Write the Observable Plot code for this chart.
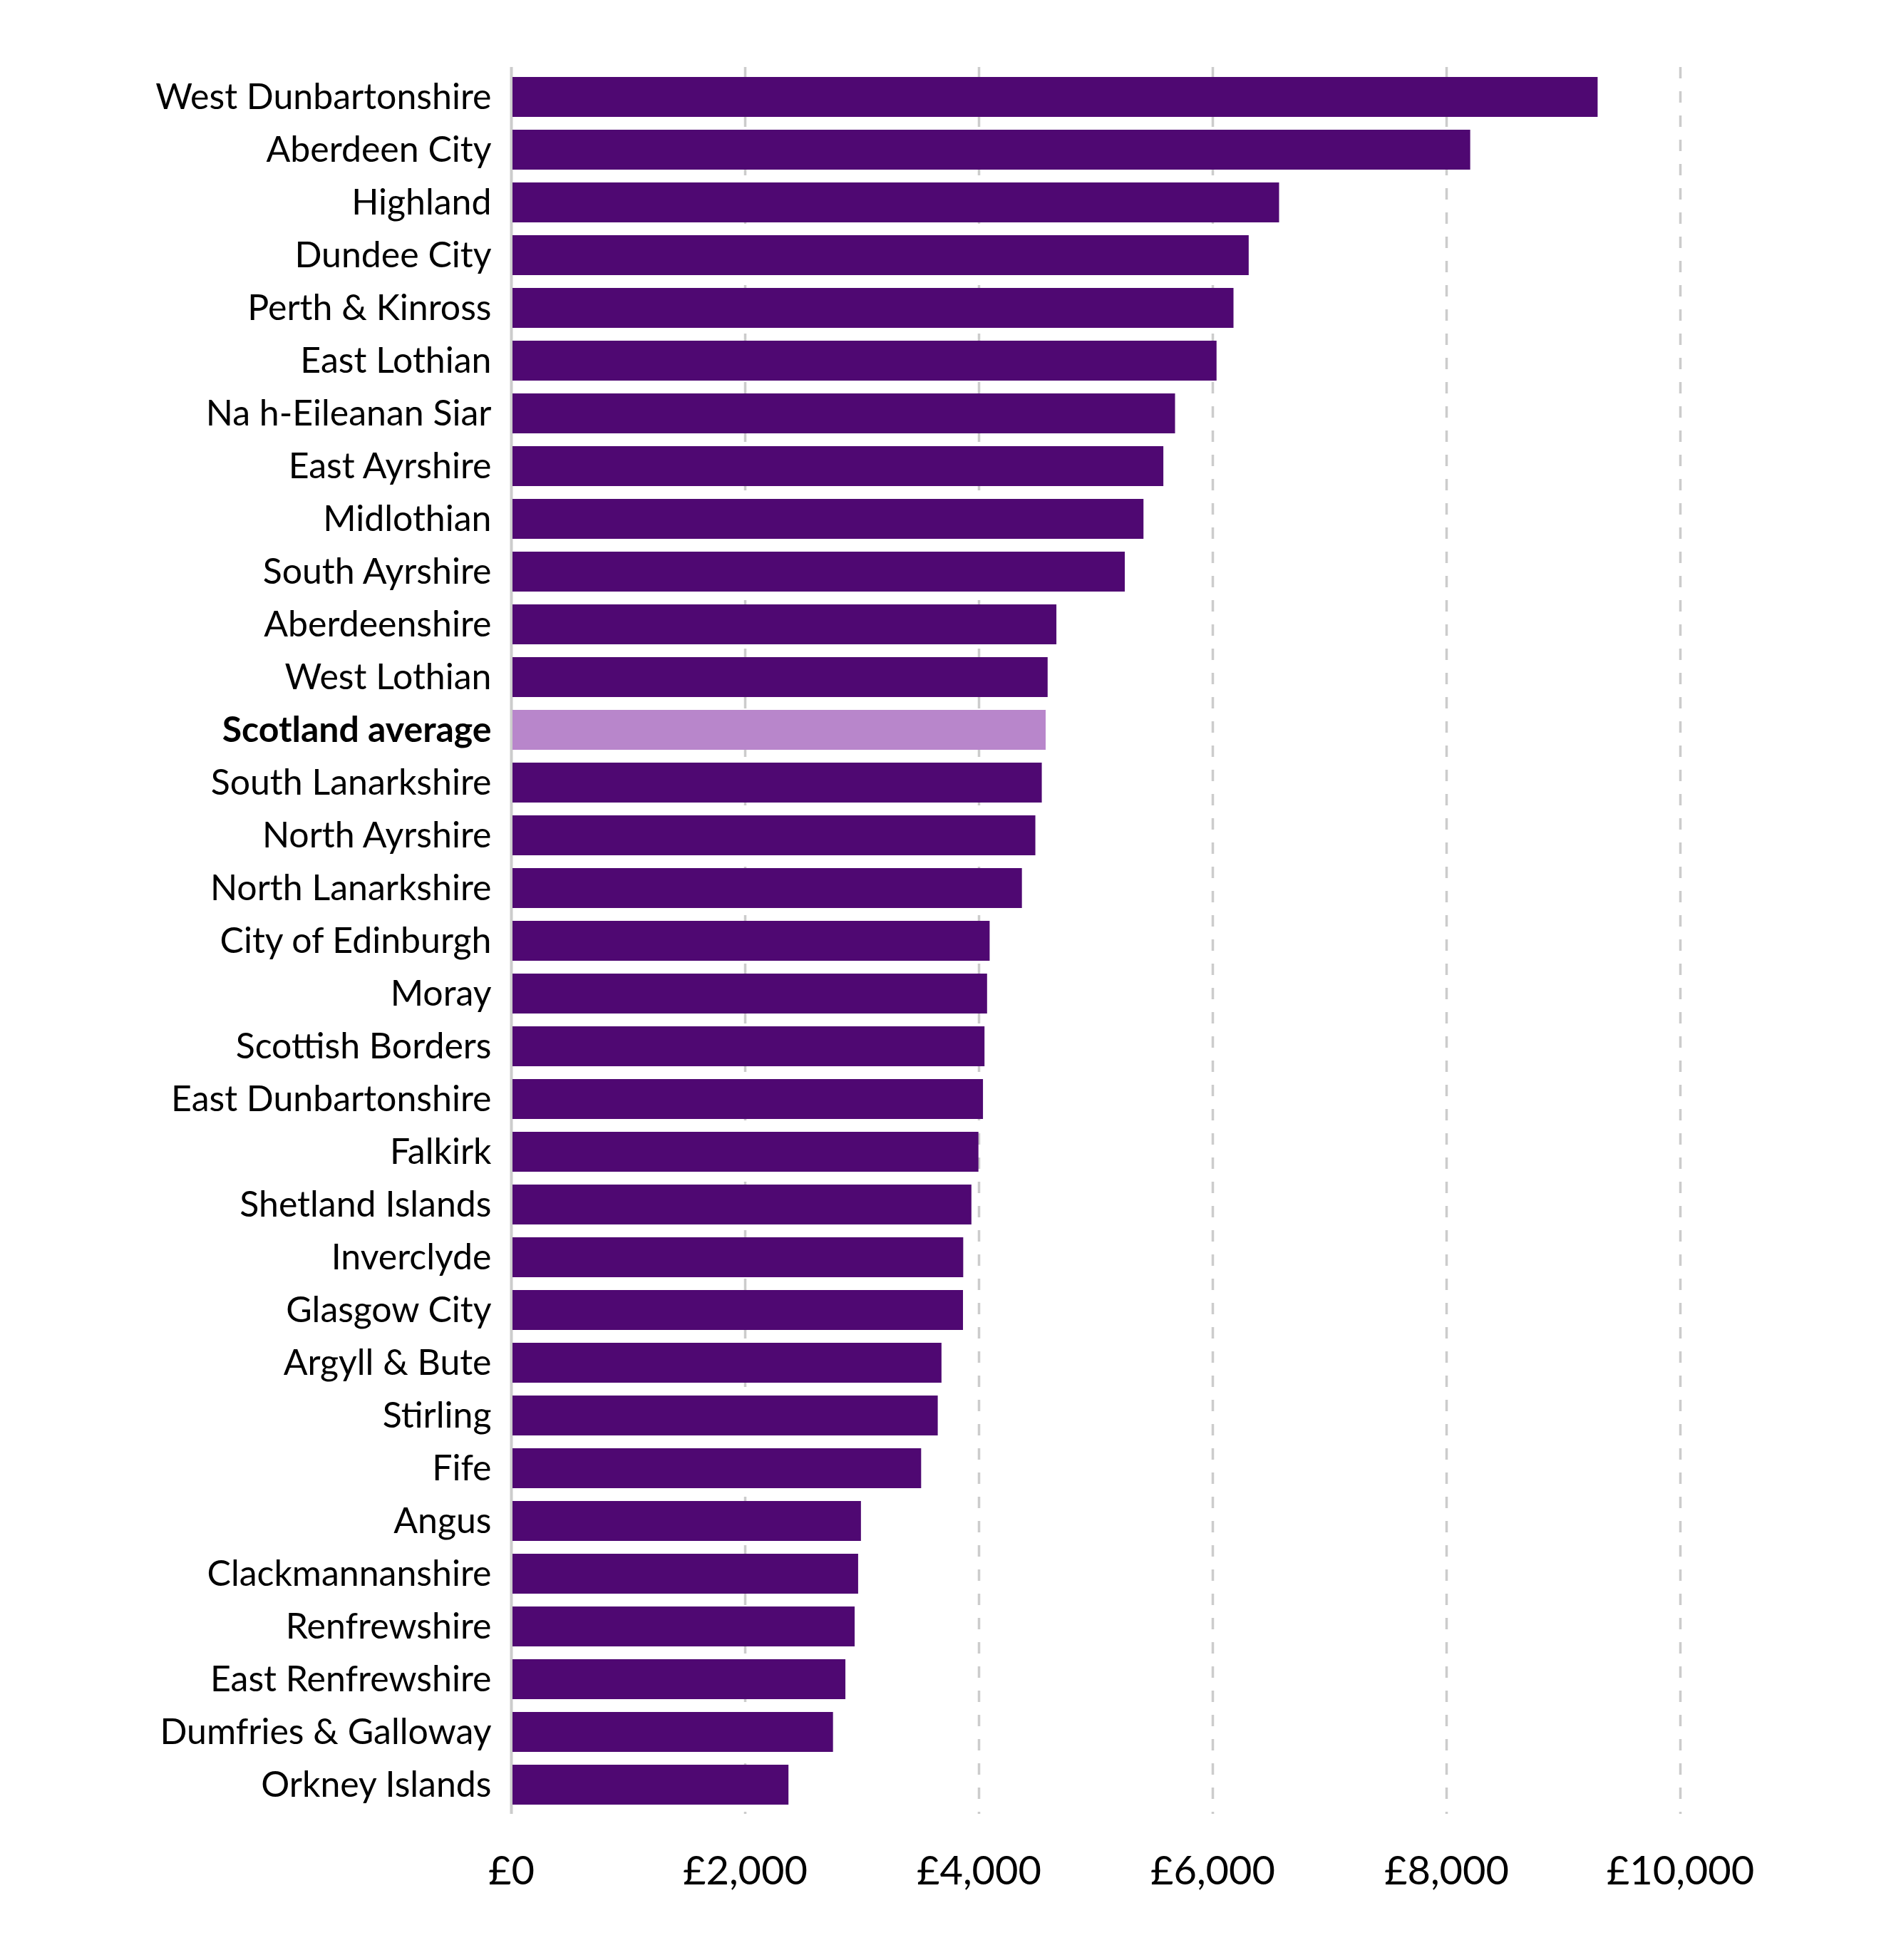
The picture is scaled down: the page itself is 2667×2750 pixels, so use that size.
<!DOCTYPE html>
<html>
<head>
<meta charset="utf-8">
<script src="https://cdn.jsdelivr.net/npm/d3@7"></script>
<script src="https://cdn.jsdelivr.net/npm/@observablehq/plot@0.6"></script>
<style>
  html, body { margin: 0; padding: 0; background: #fff; }
</style>
</head>
<body>
<div id="chart"></div>
<script>
const areas = [
  "West Dunbartonshire", "Aberdeen City", "Highland", "Dundee City", "Perth & Kinross",
  "East Lothian", "Na h-Eileanan Siar", "East Ayrshire", "Midlothian", "South Ayrshire",
  "Aberdeenshire", "West Lothian", "Scotland average", "South Lanarkshire", "North Ayrshire",
  "North Lanarkshire", "City of Edinburgh", "Moray", "Scottish Borders", "East Dunbartonshire",
  "Falkirk", "Shetland Islands", "Inverclyde", "Glasgow City", "Argyll & Bute",
  "Stirling", "Fife", "Angus", "Clackmannanshire", "Renfrewshire",
  "East Renfrewshire", "Dumfries & Galloway", "Orkney Islands"
];
const values = [
  9295, 8205, 6570, 6310, 6180,
  6035, 5680, 5580, 5410, 5250,
  4665, 4590, 4573, 4540, 4485,
  4370, 4094, 4072, 4050, 4037,
  3998, 3938, 3868, 3866, 3682,
  3650, 3508, 2993, 2969, 2939,
  2860, 2754, 2373
];
const averageLabel = "Scotland average";
const xTicks = [0, 2000, 4000, 6000, 8000, 10000];
const kinds = ["council", "average"];
const kindColors = ["#4f0872", "#b886cb"];

const data = areas.map((a, i) => ({
  area: a,
  value: values[i],
  kind: a === averageLabel ? "average" : "council"
}));

const fmt = d => "£" + d3.format(",")(d);

const chart = Plot.plot({
  width: 2667,
  height: 2750,
  marginLeft: 717,
  marginRight: 310,
  marginTop: 94,
  marginBottom: 205,
  style: { fontFamily: "Lato, sans-serif", fontSize: "54px", color: "#000", background: "#fff", overflow: "visible" },
  x: { domain: [0, 10000], label: null },
  y: { domain: areas, paddingInner: 0.246, paddingOuter: 0.123, label: null },
  color: { domain: kinds, range: kindColors },
  marks: [
    Plot.ruleX(xTicks.filter(d => d > 0), { stroke: "#cccccc", strokeWidth: 3.5, strokeDasharray: "16,18" }),
    Plot.ruleX([0], { stroke: "#cccccc", strokeWidth: 4 }),
    Plot.barX(data, { x: "value", y: "area", fill: "kind", insetLeft: 2 }),
    Plot.axisX({ ticks: xTicks, tickSize: 0, tickPadding: 59, tickFormat: fmt, label: null, fill: "#000", fontSize: 56 }),
    Plot.axisY({ tickSize: 0, tickPadding: 28, label: null, fill: "#000", fontSize: 50 })
  ]
});

d3.select(chart).selectAll("text")
  .filter(function () { return this.textContent === averageLabel; })
  .attr("font-weight", "bold");

document.getElementById("chart").appendChild(chart);
</script>
</body>
</html>
